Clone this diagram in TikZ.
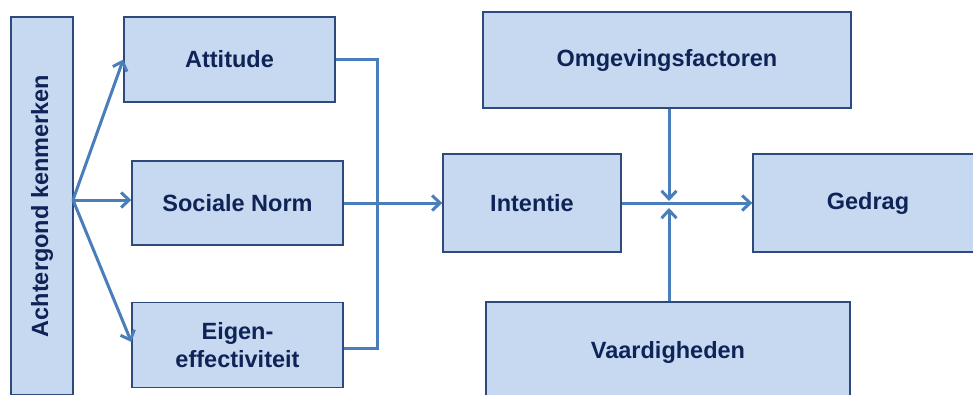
\documentclass[tikz,border=0pt]{standalone}
\usepackage{fontspec}
\usepackage{graphicx}
\setmainfont{Liberation Sans}
\usetikzlibrary{arrows.meta,positioning}
\definecolor{boxfill}{HTML}{C6D9F1}
\definecolor{boxline}{HTML}{2E4A7D}
\definecolor{boxtext}{HTML}{0F2357}
\definecolor{arrowblue}{HTML}{4A7EBB}

\begin{document}
\begin{tikzpicture}[x=1pt,y=-1pt,->,>={Straight Barb[length=8pt,width=15pt]},line width=3pt,color=arrowblue,main node/.style={rectangle,draw=boxline,line width=1.4pt,fill=boxfill,text=boxtext,font=\fontsize{23.5}{28}\selectfont\bfseries,align=center,inner sep=0pt}]
                \clip[-] (0,0) rectangle (973,394);

                \node[main node,minimum width=62pt,minimum height=378pt] (achter) at (42,206) {\rotatebox{90}{Achtergond kenmerken}};
                \node[main node,minimum width=211pt,minimum height=85pt] (att) at (229.5,59.5) {Attitude};
                \node[main node,minimum width=211pt,minimum height=84pt] (soc) at (237.5,203) {Sociale Norm};
                \node[main node,minimum width=211pt,minimum height=85pt] (eig) [below=56pt of soc] {Eigen-\\effectiviteit};
                \node[main node,minimum width=178pt,minimum height=98pt] (int) at (532,203) {Intentie};
                \node[main node,minimum width=368pt,minimum height=96pt] (omg) at (667,60) {Omgevingsfactoren};
                \node[main node,minimum width=230pt,minimum height=98pt] (ged) at (868,203) {Gedrag};
                \node[main node,minimum width=364pt,minimum height=100pt] (vaa) at (668,352) {Vaardigheden};

                \coordinate (fork) at (73,200);
                \coordinate (meet) at (669,203);

                % fan out from the background box
                \path
                    (fork) edge (att.west)
                    (fork) edge (soc.west |- fork)
                    (fork) edge ([yshift=3pt]eig.west)
                    ;

                % bracket joining the three determinants
                \draw[-] (att.east) -- ++(42,0) |- ([yshift=-4pt]eig.east);

                \path
                    (soc) edge (int)
                    (int) edge (ged)
                    ;

                \draw (omg.south -| meet) -- ([yshift=2pt]meet);
                \draw (vaa.north -| meet) -- ([yshift=-5pt]meet);

            \end{tikzpicture}
\end{document}
